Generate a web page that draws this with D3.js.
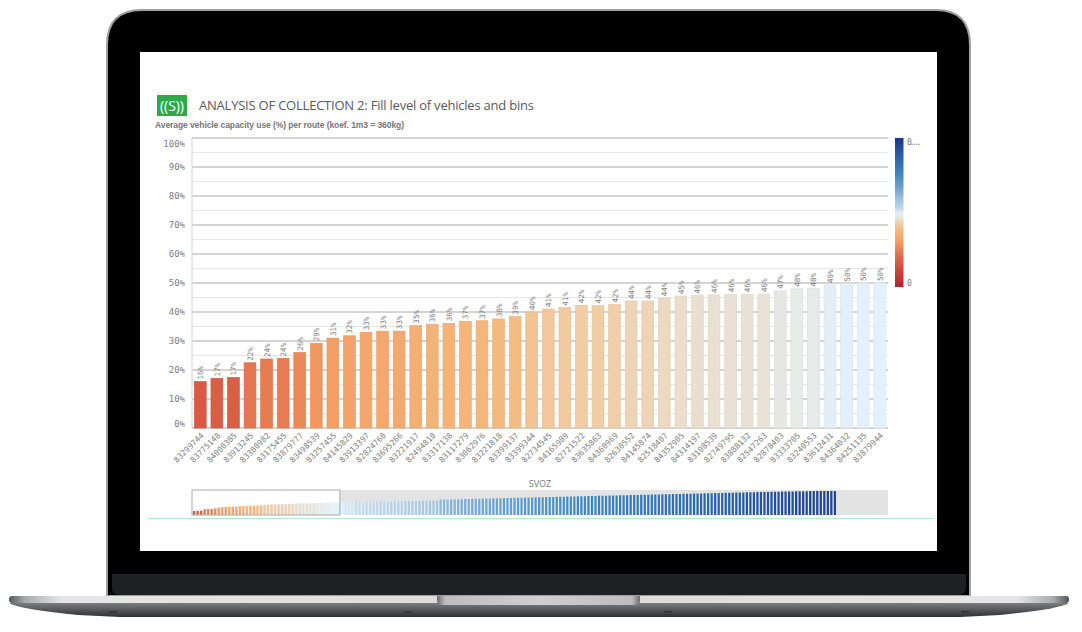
<!DOCTYPE html>
<html>
<head>
<meta charset="utf-8">
<script src="https://cdn.jsdelivr.net/npm/d3@7/dist/d3.min.js"></script>
<style>
  html, body { margin: 0; padding: 0; background: #fff; }
  svg { display: block; }
  .mono { font-family: "DejaVu Sans Mono", monospace; fill: #808080; }
  .axis path, .axis line { display: none; }
</style>
</head>
<body>
<div id="chart"></div>
<script>
const routes = ['83299744','83775148','84000385','83913245','83380982','83175455','83879777','83498539','83257455','84145829','83913397','82824760','83695266','83221917','82494810','83317138','83117279','83062976','83221818','83399137','83399344','82734545','84165989','82721522','83635863','84360969','82630552','84145874','82518407','84352905','84314197','83108539','82749795','83888132','82547263','82878403','83333705','83240553','83612431','84364032','84251135','83879944'];
const fillLevel = [16,17.1,17.4,22.5,23.8,24,26,29.2,31,31.8,33,33.4,33.4,35.3,35.8,36.1,36.8,37,37.6,38.4,40,41,41.5,42.3,42.2,42.6,43.8,43.8,44.7,45.5,45.7,45.9,46.1,46.1,46.2,47.3,48,48.1,49.3,49.8,50,50];
const labels = [16,17,17,22,24,24,26,29,31,32,33,33,33,35,36,36,37,37,38,39,40,41,41,42,42,42,44,44,44,45,46,46,46,46,46,47,48,48,49,50,50,50];
// rest of the routes, only visible in the overview strip below the chart
const restLevel = [50,51,51,51,52,52,52,53,53,53,53,54,54,54,55,55,55,55,56,56,56,56,57,57,57,58,58,58,62,62,62,63,63,63,64,64,64,65,65,65,66,66,66,67,67,67,68,68,68,69,69,69,70,70,70,71,71,71,72,72,72,73,73,73,74,74,74,75,75,75,76,76,76,77,77,77,78,78,78,79,79,79,80,80,80,81,81,81,82,82,82,83,83,83,84,84,84,85,85,85,86,86,86,87,87,87,88,88,88,89,89,89,90,90,90,91,91,91,92,92,92,92,93,93,93,94,94,94,94,95,95,95,95,96,96,96,96,96,96,96,96];
const yTicks = [0,10,20,30,40,50,60,70,80,90,100];
const minorTicks = [5,15,25,35,45,55,65,75,85,95];
const colorDomain = [0,12,20,30,37,43,47,50,52,57,65,75,88,100];
const colorRange = ['#b5202e','#cf4a3c','#e0694a','#f29c62','#f5b67a','#efd0ab','#e8e6e0','#e2f1fb','#c6dcec','#a9c9e2','#76a9d3','#3f88c0','#2a62a8','#1c3688'];
const slots = [113, 408, 668, 965];

const W = 1082, H = 632;
const margin = { top: 138, right: 194, bottom: 204, left: 192 },
      width = W - margin.left - margin.right,
      height = H - margin.top - margin.bottom;

const svg = d3.select('#chart').append('svg').attr('width', W).attr('height', H);
const color = d3.scaleLinear().domain(colorDomain).range(colorRange);

// laptop frame
const defs = svg.append('defs');
const baseGrad = defs.append('linearGradient').attr('id', 'baseGrad').attr('x2', 0).attr('y2', 1);
baseGrad.append('stop').attr('offset', 0).attr('stop-color', '#7c7d80');
baseGrad.append('stop').attr('offset', 1).attr('stop-color', '#2f3032');
const stripGrad = defs.append('linearGradient').attr('id', 'stripGrad');
[['0','#55565a'],['0.015','#a9aaac'],['0.05','#e6e6e6'],['0.5','#d9d9d9'],['0.95','#e6e6e6'],['0.985','#a9aaac'],['1','#55565a']].forEach(s =>
  stripGrad.append('stop').attr('offset', s[0]).attr('stop-color', s[1]));
const notchGrad = defs.append('linearGradient').attr('id', 'notchGrad');
[['0','#6b6b6e'],['0.04','#bdbdbf'],['0.5','#cfcfd2'],['0.96','#bdbdbf'],['1','#6b6b6e']].forEach(s =>
  notchGrad.append('stop').attr('offset', s[0]).attr('stop-color', s[1]));

svg.append('path').attr('d', 'M9 603 H1069 Q1060 609 1000 615 L960 617 H120 L78 615 Q18 609 9 603Z').attr('fill', 'url(#baseGrad)');
svg.append('path').attr('d', 'M107 596 V45 Q107 10 142 10 H936 Q970 10 970 45 V596Z').attr('fill', '#000').attr('stroke', '#a0a0a0').attr('stroke-width', 2);
svg.append('path').attr('d', 'M112 574 H966 V588 Q966 595 958 595 H120 Q112 595 112 588Z').attr('fill', '#1f2023');
svg.append('rect').attr('x', 9).attr('y', 596).attr('width', 1060).attr('height', 7).attr('rx', 3).attr('fill', 'url(#stripGrad)');
svg.append('path').attr('d', 'M437 596 H640 V601 Q640 605 634 605 H443 Q437 605 437 601Z').attr('fill', 'url(#notchGrad)');
svg.selectAll('.slot').data(slots).enter().append('rect')
   .attr('x', d => d - 4).attr('y', 611).attr('width', 8).attr('height', 1.5).attr('fill', '#333');
svg.append('rect').attr('x', 140).attr('y', 52).attr('width', 797).attr('height', 499).attr('fill', '#fff');

// header
svg.append('rect').attr('x', 157).attr('y', 95).attr('width', 30).attr('height', 21).attr('fill', '#2fa84a');
svg.append('text').attr('x', 160).attr('y', 110.5)
   .style('font', '14px "Open Sans"').attr('fill', '#fff').attr('textLength', 24).text('((S))');
svg.append('text').attr('x', 199).attr('y', 110)
   .style('font', '13px "Open Sans"').attr('fill', '#5a5a5a').attr('textLength', 335)
   .text('ANALYSIS OF COLLECTION 2: Fill level of vehicles and bins');
svg.append('text').attr('x', 155).attr('y', 128)
   .style('font', 'bold 8.5px "Liberation Sans"').attr('fill', '#777').attr('textLength', 249)
   .text('Average vehicle capacity use (%) per route (koef. 1m3 = 360kg)');

const g = svg.append('g').attr('transform', `translate(${margin.left}, ${margin.top})`);

const x = d3.scaleBand().domain(routes).range([0, width]).paddingInner(0.29).paddingOuter(0.145),
      y = d3.scaleLinear().domain([0, 100]).range([height, 0]);

// grid
g.selectAll('.minor').data(minorTicks).enter().append('line')
 .attr('x1', 0).attr('x2', width).attr('y1', d => y(d)).attr('y2', d => y(d))
 .attr('stroke', '#e6e6e6');
g.selectAll('.major').data(yTicks).enter().append('line')
 .attr('x1', 0).attr('x2', width).attr('y1', d => y(d)).attr('y2', d => y(d))
 .attr('stroke', '#c6c6c6').attr('stroke-width', 1.5);
g.append('line').attr('y1', 0).attr('y2', height).attr('stroke', '#d4d4d4');

// bars
g.selectAll('.bar').data(fillLevel).enter().append('rect')
 .attr('x', (d, i) => x(routes[i]))
 .attr('y', d => y(d))
 .attr('width', x.bandwidth())
 .attr('height', d => height - y(d))
 .attr('fill', d => color(d))
 .attr('stroke', d => d3.color(color(d)).darker(0.12))
 .attr('stroke-width', 0.7);

// value labels
g.selectAll('.val').data(fillLevel).enter().append('text')
 .attr('class', 'mono')
 .attr('transform', (d, i) => `translate(${x(routes[i]) + x.bandwidth() / 2 + 3}, ${y(d) - 2}) rotate(-90)`)
 .style('font-size', '7.5px')
 .text((d, i) => labels[i] + '%');

// axes
const yAxis = g.append('g').attr('class', 'axis mono')
 .call(d3.axisLeft(y).tickValues(yTicks).tickFormat(d => d + '%').tickSize(0).tickPadding(7));
yAxis.selectAll('text').attr('class', 'mono').style('font-size', '9px')
 .attr('dy', d => d === 0 ? '-0.2em' : d === 100 ? '0.9em' : '0.32em');

const xAxis = g.append('g').attr('class', 'axis').attr('transform', `translate(0, ${height})`)
 .call(d3.axisBottom(x).tickSize(0).tickPadding(0));
xAxis.selectAll('text').attr('class', 'mono')
 .style('font-size', '8px')
 .attr('text-anchor', 'end')
 .attr('dx', 0).attr('dy', 0).attr('y', 0)
 .attr('transform', 'translate(4, 8) rotate(-45)');

// legend
const legend = svg.append('g').attr('transform', 'translate(895, 138)');
const legendY = d3.scaleLinear().domain([0, 100]).range([149, 0]);
const legendGrad = defs.append('linearGradient').attr('id', 'legendGrad').attr('x2', 0).attr('y1', 1).attr('y2', 0);
colorDomain.forEach((d, i) => legendGrad.append('stop').attr('offset', d / 100).attr('stop-color', colorRange[i]));
legend.append('rect').attr('width', 8.5).attr('y', legendY(100)).attr('height', legendY(0)).attr('fill', 'url(#legendGrad)');
legend.append('text').attr('class', 'mono').attr('x', 12).attr('y', legendY(100) + 7).style('font-size', '8px').style('letter-spacing', '-2.4px').text('0....');
legend.append('text').attr('class', 'mono').attr('x', 12).attr('y', legendY(0) - 1).style('font-size', '8px').text('0');

// overview strip
const overviewLevel = fillLevel.concat(restLevel);
const ov = svg.append('g').attr('transform', 'translate(192, 490)');
const ovX = d3.scaleBand().domain(d3.range(overviewLevel.length)).range([1, 644]).paddingInner(0.36),
      ovY = d3.scaleLinear().domain([0, 100]).range([25, 0]);
ov.append('rect').attr('width', width).attr('height', 25).attr('fill', '#e3e3e3');
ov.append('rect').attr('width', ovX(42) - 1).attr('height', 25).attr('fill', '#fff');
// whitish backing so the gaps between the thin bars read light
ov.selectAll('.ovBack').data(overviewLevel).enter().append('rect')
  .attr('x', (d, i) => ovX(i) - ovX.step() * 0.36)
  .attr('y', d => ovY(d))
  .attr('width', ovX.step())
  .attr('height', d => 25 - ovY(d))
  .attr('fill', '#eaeff4');
ov.selectAll('.ovBar').data(overviewLevel).enter().append('rect')
  .attr('x', (d, i) => ovX(i))
  .attr('y', d => ovY(d))
  .attr('width', ovX.bandwidth())
  .attr('height', d => 25 - ovY(d))
  .attr('fill', d => color(d));
ov.append('rect').attr('width', ovX(42) - 1).attr('height', 25).attr('fill', 'none').attr('stroke', '#aaa');
svg.append('text').attr('x', 540).attr('y', 487).attr('text-anchor', 'middle')
   .style('font', '9px "Open Sans"').attr('fill', '#777').text('SVOZ');
svg.append('line').attr('x1', 148).attr('x2', 934).attr('y1', 518.5).attr('y2', 518.5).attr('stroke', '#aeeed0');
</script>
</body>
</html>
